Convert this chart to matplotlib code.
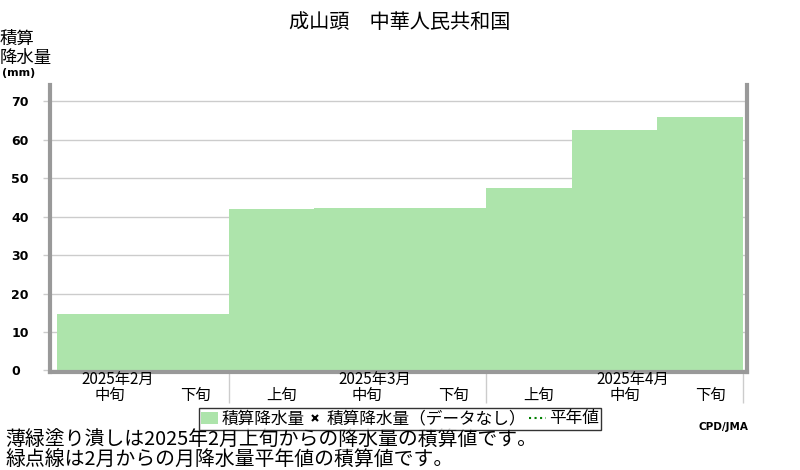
"""
成山頭 積算降水量 (2025年2月中旬〜4月下旬)
"""

#%%

import numpy as np
import matplotlib.pyplot as plt
from matplotlib.patches import Patch
from matplotlib.lines import Line2D

plt.rcParams['font.family'] = ['Noto Sans CJK JP', 'DejaVu Sans']

#%%

#Values (one per dekad)

dekads = ['中旬', '下旬', '上旬', '中旬', '下旬', '上旬', '中旬', '下旬']
accum = [14.6, 14.6, 41.9, 42.2, 42.2, 47.4, 62.4, 65.9]
months = ['2025年2月', '2025年3月', '2025年4月']
month_label_at = [0, 3, 6]
month_edges = [2, 5, 8]
yticks = [0, 10, 20, 30, 40, 50, 60, 70]

fill_col = '#ade4ab'
axis_col = '#999999'
grid_col = '#cccccc'

#%%

fig = plt.figure(figsize=(8, 4.7), dpi=100)
ax = fig.add_axes([50/800, 1-372/470, 697/800, 287/470])

edges = np.arange(len(accum)+1)
ax.stairs(accum, edges, fill=True, color=fill_col, lw=0, zorder=2)

ax.set_xlim(-7/85.75, 8+4/85.75)
ax.set_ylim(-0.4, 74.2)

#Spines
for s in ['left', 'bottom', 'right']:
    ax.spines[s].set_color(axis_col)
    ax.spines[s].set_linewidth(3)
ax.spines['top'].set_visible(False)

#Y axis
ax.set_yticks(yticks)
ax.set_yticklabels([str(v) for v in yticks], fontsize=9, fontweight='bold',
                   family='DejaVu Sans', ha='left')
ax.tick_params(axis='y', length=5, color=grid_col, width=1, pad=23)
ax.grid(axis='y', color=grid_col, lw=1, zorder=1)

#X axis: month boundaries as long ticks, dekad names as labels
ax.set_xticks(month_edges)
ax.set_xticklabels([])
ax.tick_params(axis='x', which='major', length=22, color=grid_col, width=1)
ax.set_xticks(np.arange(len(dekads)) + 0.5 + 10/85.75, minor=True)
ax.set_xticklabels(dekads, minor=True, fontsize=11)
ax.tick_params(axis='x', which='minor', length=0, pad=10.5)

trans = ax.get_xaxis_transform()
for m, i in zip(months, month_label_at):
    ax.text(i + 0.5 + 18/85.75, -7/287, m, transform=trans, ha='center',
            va='center', fontsize=11)

#%%

#Texts around the plot

fig.text(0.5, 1-22/470, '成山頭　中華人民共和国', ha='center', va='center', fontsize=14.5)
fig.text(0.0, 1-39/470, '積算', ha='left', va='center', fontsize=12.5)
fig.text(0.0, 1-58/470, '降水量', ha='left', va='center', fontsize=12.5)
fig.text(2/800, 1-73/470, '(mm)', ha='left', va='center', fontsize=8,
         fontweight='bold', family='DejaVu Sans')

fig.text(5/800, 1-440/470, '薄緑塗り潰しは2025年2月上旬からの降水量の積算値です。',
         ha='left', va='center', fontsize=14.3)
fig.text(5/800, 1-459/470, '緑点線は2月からの月降水量平年値の積算値です。',
         ha='left', va='center', fontsize=14.3)
fig.text(748/800, 1-427/470, 'CPD/JMA', ha='right', va='center', fontsize=7.5,
         fontweight='bold', family='DejaVu Sans')

#Legend
handles = [Patch(facecolor=fill_col, edgecolor='none'),
           Line2D([], [], ls='none', marker='x', color='black', ms=5, mew=1.5),
           Line2D([], [], ls=':', color='green', lw=1.5)]
labels = ['積算降水量', '積算降水量（データなし）', '平年値']
leg = fig.legend(handles, labels, ncol=3, loc='center', bbox_to_anchor=(0.5, 1-419/470),
                 fontsize=12, frameon=True, fancybox=False, edgecolor='black',
                 borderpad=0.15, handlelength=1.0, handletextpad=0.2,
                 columnspacing=0.15, borderaxespad=0)
leg.get_frame().set_linewidth(1)

fig.savefig('out.png', dpi=100)
